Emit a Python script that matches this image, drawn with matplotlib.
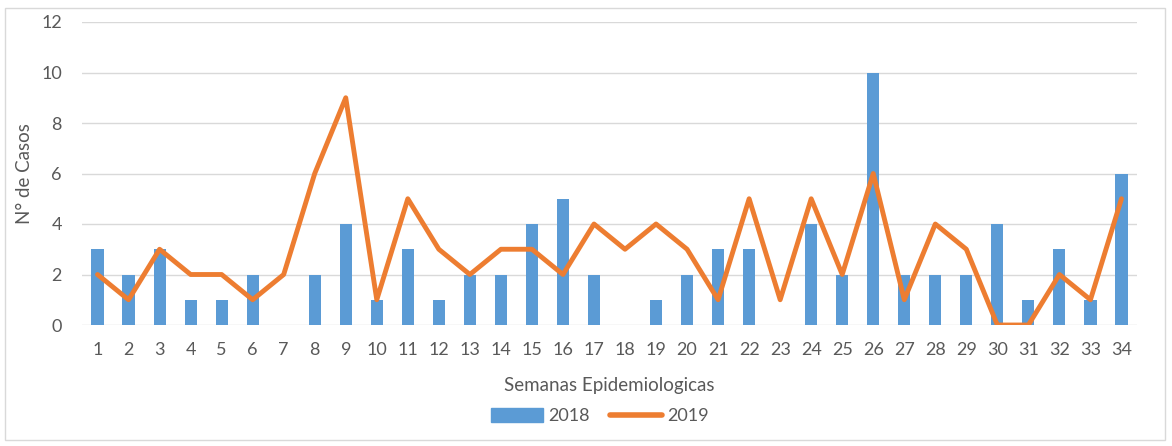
import matplotlib
matplotlib.use("Agg")
import matplotlib.pyplot as plt
from matplotlib.patches import Rectangle
from matplotlib.lines import Line2D

weeks = list(range(1, 35))
cases_2018 = [3, 2, 3, 1, 1, 2, 0, 2, 4, 1, 3, 1, 2, 2, 4, 5, 2, 0, 1, 2,
              3, 3, 0, 4, 2, 10, 2, 2, 2, 4, 1, 3, 1, 6]
cases_2019 = [2, 1, 3, 2, 2, 1, 2, 6, 9, 1, 5, 3, 2, 3, 3, 2, 4, 3, 4, 3,
              1, 5, 1, 5, 2, 6, 1, 4, 3, 0, 0, 2, 1, 5]
y_ticks = [0, 2, 4, 6, 8, 10, 12]

plt.rcParams['font.family'] = ['Lato', 'DejaVu Sans']
blue = '#5B9BD5'
orange = '#ED7D31'
txt = '#595959'

fig = plt.figure(figsize=(11.72, 4.46), dpi=100)
fig.patches.append(Rectangle((5/1172, 6/446), 1160/1172, 432/446, transform=fig.transFigure,
                             fill=False, edgecolor='#D9D9D9', linewidth=1))
ax = fig.add_axes([82/1172, 1 - 325/446, (1137 - 82)/1172, (325 - 22)/446])

ax.bar(weeks, cases_2018, width=0.39, color=blue, zorder=2, label='2018')
ax.plot(weeks, cases_2019, color=orange, linewidth=3.5, solid_joinstyle='round',
        solid_capstyle='round', zorder=3, label='2019')

ax.set_xlim(0.5, 34.5)
ax.set_ylim(0, 12)
ax.set_yticks(y_ticks)
ax.set_xticks(weeks)
ax.set_xticklabels([str(w) for w in weeks])
ax.grid(axis='y', color='#D9D9D9', linewidth=1, zorder=0)
for s in ax.spines.values():
    s.set_visible(False)
ax.tick_params(axis='both', length=0, labelsize=13, colors=txt)
ax.tick_params(axis='y', pad=14.5)
ax.tick_params(axis='x', pad=12)
ax.set_ylabel('N° de Casos', fontsize=13.5, color=txt)
ax.yaxis.set_label_coords((25 - 82) / 1055, 0.5)
ax.yaxis.label.set_va('center')
ax.set_xlabel('Semanas Epidemiologicas', fontsize=13.5, color=txt)
ax.xaxis.set_label_coords(0.5, -(385 - 325) / 303, transform=ax.transAxes)
ax.xaxis.label.set_va('center')

handles = [Rectangle((0, 0), 1, 1, color=blue),
           Line2D([0], [0], color=orange, linewidth=4, solid_capstyle='round')]
fig.legend(handles, ['2018', '2019'], loc='center', bbox_to_anchor=(600/1172, 1 - 416/446),
           ncol=2, frameon=False, fontsize=13, labelcolor=txt, handlelength=2.9,
           handleheight=0.8, columnspacing=1.1, handletextpad=0.3)

fig.savefig('out.png', dpi=100)
